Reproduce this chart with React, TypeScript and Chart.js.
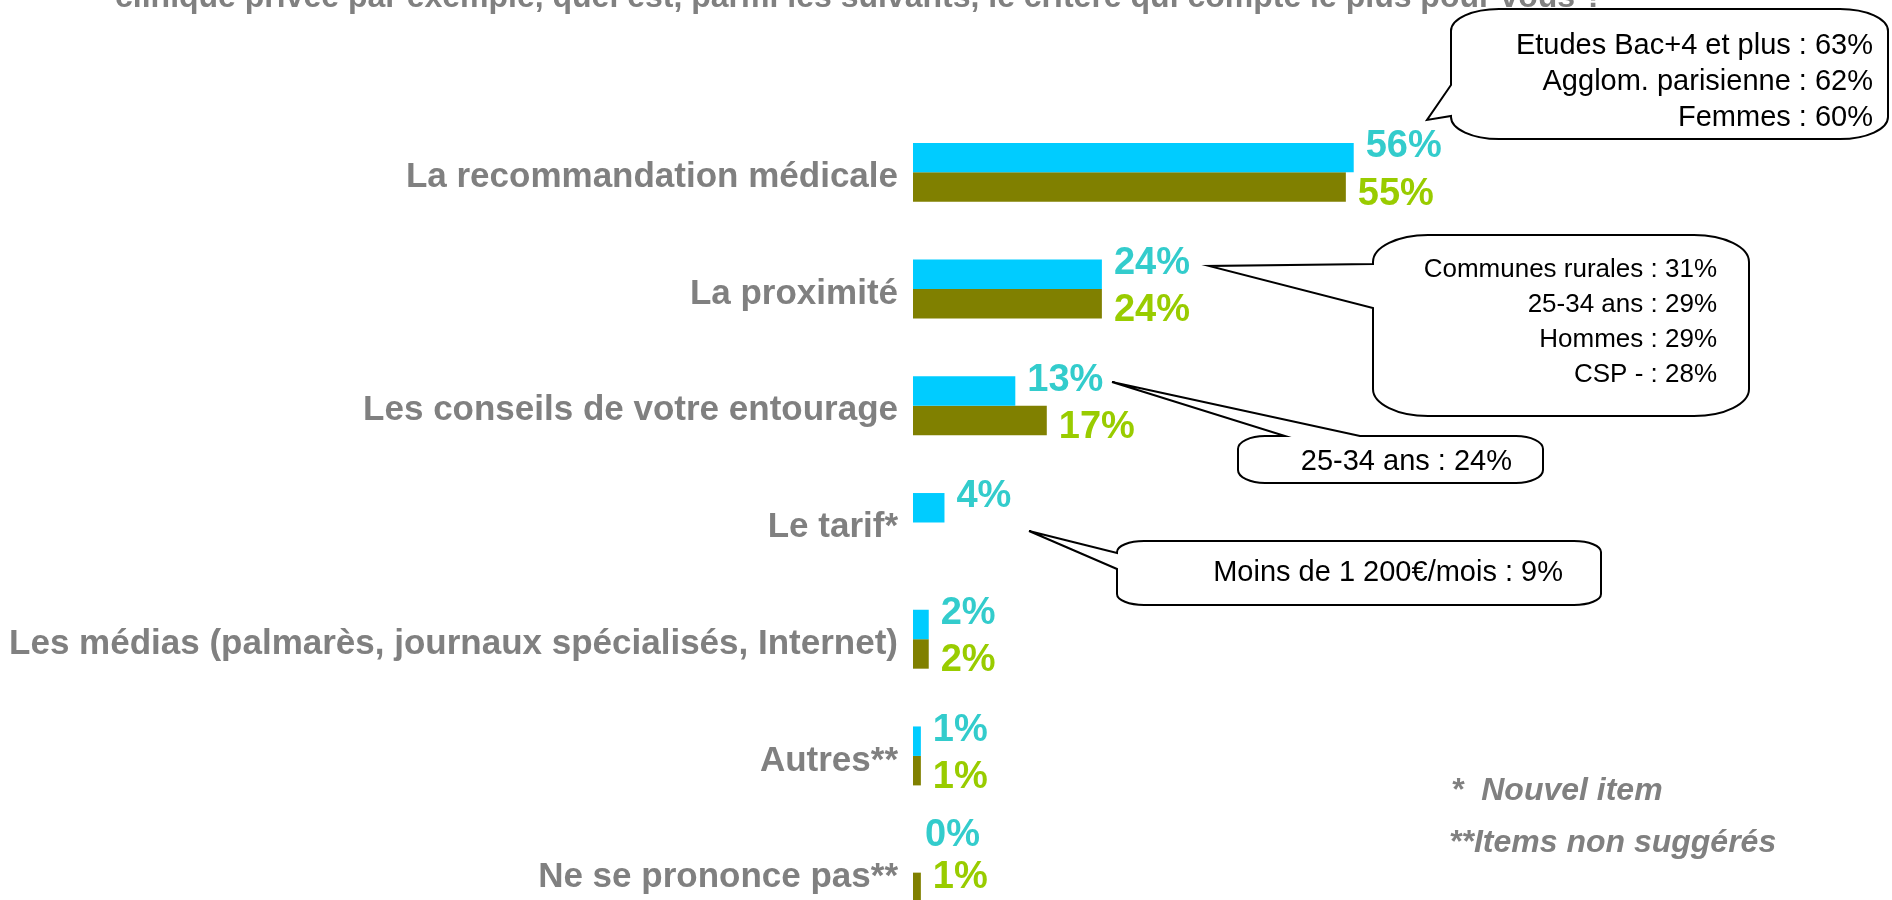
import React, { useEffect, useRef } from "react";
import { Chart, registerables } from "chart.js";

Chart.register(...registerables);

const categories = [
  "La recommandation médicale",
  "La proximité",
  "Les conseils de votre entourage",
  "Le tarif*",
  "Les médias (palmarès, journaux spécialisés, Internet)",
  "Autres**",
  "Ne se prononce pas**",
];
const seriesNames = ["Vague actuelle", "Vague précédente"];
const currentValues: (number | null)[] = [56, 24, 13, 4, 2, 1, 0];
const previousValues: (number | null)[] = [55, 24, 17, null, 2, 1, 1];

const titleText =
  "clinique privée par exemple, quel est, parmi les suivants, le critère qui compte le plus pour vous ?";
const callout1Lines = ["Etudes Bac+4 et plus : 63%", "Agglom. parisienne : 62%", "Femmes : 60%"];
const callout2Lines = ["Communes rurales : 31%", "25-34 ans : 29%", "Hommes : 29%", "CSP - : 28%"];
const callout3Lines = ["25-34 ans : 24%"];
const callout4Lines = ["Moins de 1 200€/mois : 9%"];
const footnotes = ["*  Nouvel item", "**Items non suggérés"];

const FONT = "'Liberation Sans', Arial, Helvetica, sans-serif";
const GRAY = "#808080";
const BAR_COLORS = ["#00CCFF", "#808000"];
const LABEL_COLORS = ["#33CCCC", "#99CC00"];
const VISIBLE_HEIGHT = 900;

type Callout = {
  x: number; y: number; w: number; h: number; rx: number; ry: number;
  side: "left" | "top"; b1: number; b2: number; tipX: number; tipY: number;
  lines: string[]; textRight: number; firstY: number; gap: number; size: number;
};

const callouts: Callout[] = [
  { x: 1451, y: 9, w: 437, h: 130, rx: 48, ry: 22, side: "left", b1: 85, b2: 116, tipX: 1427, tipY: 120,
    lines: callout1Lines, textRight: 1873, firstY: 46, gap: 36, size: 29 },
  { x: 1373, y: 235, w: 376, h: 181, rx: 55, ry: 27, side: "left", b1: 264, b2: 308, tipX: 1209, tipY: 266,
    lines: callout2Lines, textRight: 1717, firstY: 270, gap: 35, size: 26 },
  { x: 1238, y: 436, w: 305, h: 47, rx: 27, ry: 13, side: "top", b1: 1285, b2: 1360, tipX: 1112, tipY: 382,
    lines: callout3Lines, textRight: 1512, firstY: 462, gap: 35, size: 29 },
  { x: 1117, y: 541, w: 484, h: 64, rx: 27, ry: 11, side: "left", b1: 553, b2: 569, tipX: 1029, tipY: 531,
    lines: callout4Lines, textRight: 1563, firstY: 573, gap: 35, size: 29 },
];

const K = 0.5523;

function drawCallout(ctx: CanvasRenderingContext2D, c: Callout) {
  const { x, y, w, h, rx, ry } = c;
  const r = x + w;
  const b = y + h;
  ctx.save();
  ctx.beginPath();
  ctx.moveTo(x + rx, y);
  if (c.side === "top") {
    ctx.lineTo(c.b1, y);
    ctx.lineTo(c.tipX, c.tipY);
    ctx.lineTo(c.b2, y);
  }
  ctx.lineTo(r - rx, y);
  ctx.bezierCurveTo(r - rx + rx * K, y, r, y + ry - ry * K, r, y + ry);
  ctx.lineTo(r, b - ry);
  ctx.bezierCurveTo(r, b - ry + ry * K, r - rx + rx * K, b, r - rx, b);
  ctx.lineTo(x + rx, b);
  ctx.bezierCurveTo(x + rx - rx * K, b, x, b - ry + ry * K, x, b - ry);
  if (c.side === "left") {
    ctx.lineTo(x, c.b2);
    ctx.lineTo(c.tipX, c.tipY);
    ctx.lineTo(x, c.b1);
  }
  ctx.lineTo(x, y + ry);
  ctx.bezierCurveTo(x, y + ry - ry * K, x + rx - rx * K, y, x + rx, y);
  ctx.closePath();
  ctx.fillStyle = "#ffffff";
  ctx.fill();
  ctx.lineWidth = 2;
  ctx.strokeStyle = "#000000";
  ctx.lineJoin = "miter";
  ctx.stroke();
  ctx.fillStyle = "#000000";
  ctx.font = `${c.size}px ${FONT}`;
  ctx.textAlign = "right";
  ctx.textBaseline = "middle";
  c.lines.forEach((line, i) => ctx.fillText(line, c.textRight, c.firstY + i * c.gap));
  ctx.restore();
}

const valueLabelsPlugin = {
  id: "valueLabels",
  afterDatasetsDraw(chart: any) {
    const ctx: CanvasRenderingContext2D = chart.ctx;
    ctx.save();
    ctx.font = `bold 38px ${FONT}`;
    ctx.textAlign = "left";
    ctx.textBaseline = "middle";
    const metaA = chart.getDatasetMeta(0);
    const metaB = chart.getDatasetMeta(1);
    const dsA = chart.data.datasets[0].data;
    const dsB = chart.data.datasets[1].data;
    metaA.data.forEach((barA: any, i: number) => {
      const barB = metaB.data[i];
      const vA = dsA[i];
      const vB = dsB[i];
      const yB = Math.min(barB.y + 7, VISIBLE_HEIGHT - 22);
      const yA = Math.min(barA.y - 11, yB - 42);
      if (vA !== null && vA !== undefined) {
        ctx.fillStyle = LABEL_COLORS[0];
        ctx.fillText(`${vA}%`, barA.x + 12, yA);
      }
      if (vB !== null && vB !== undefined) {
        ctx.fillStyle = LABEL_COLORS[1];
        ctx.fillText(`${vB}%`, barB.x + 12, yB);
      }
    });
    ctx.restore();
  },
};

const decorPlugin = {
  id: "decor",
  afterDraw(chart: any) {
    const ctx: CanvasRenderingContext2D = chart.ctx;
    ctx.save();
    ctx.fillStyle = GRAY;
    ctx.font = `bold 32px ${FONT}`;
    ctx.textAlign = "left";
    ctx.textBaseline = "alphabetic";
    ctx.fillText(titleText, 115, 7);
    ctx.restore();
    callouts.forEach((c) => drawCallout(ctx, c));
    ctx.save();
    ctx.fillStyle = GRAY;
    ctx.font = `italic bold 32px ${FONT}`;
    ctx.textAlign = "left";
    ctx.textBaseline = "middle";
    ctx.fillText(footnotes[0], 1451, 791);
    ctx.fillText(footnotes[1], 1449, 843);
    ctx.restore();
  },
};

export default function App() {
  const ref = useRef<HTMLCanvasElement | null>(null);
  useEffect(() => {
    document.body.style.margin = "0";
    const canvas = ref.current;
    if (!canvas) return;
    const chart = new Chart(canvas, {
      type: "bar",
      data: {
        labels: categories,
        datasets: [
          { label: seriesNames[0], data: currentValues, backgroundColor: BAR_COLORS[0], borderWidth: 0 },
          { label: seriesNames[1], data: previousValues, backgroundColor: BAR_COLORS[1], borderWidth: 0 },
        ],
      },
      options: {
        indexAxis: "y",
        animation: false,
        responsive: false,
        devicePixelRatio: 1,
        layout: { padding: { top: 114, right: 192, bottom: 40, left: 0 } },
        datasets: { bar: { barPercentage: 1, categoryPercentage: 0.505 } },
        plugins: { legend: { display: false }, tooltip: { enabled: false } },
        scales: {
          x: { display: false, min: 0, max: 100 },
          y: {
            grid: { display: false, drawTicks: false },
            border: { display: false },
            ticks: {
              autoSkip: false,
              padding: 15,
              labelOffset: 5,
              color: GRAY,
              font: { size: 35, weight: "bold", family: FONT },
            },
            afterFit: (scale: any) => {
              scale.width = 913;
            },
          },
        },
      } as any,
      plugins: [valueLabelsPlugin, decorPlugin],
    });
    return () => chart.destroy();
  }, []);
  return (
    <div style={{ position: "absolute", left: 0, top: 0, width: 1892, height: 900, overflow: "hidden", background: "#fff" }}>
      <canvas ref={ref} width={1892} height={971} style={{ display: "block", width: 1892, height: 971 }} />
    </div>
  );
}
